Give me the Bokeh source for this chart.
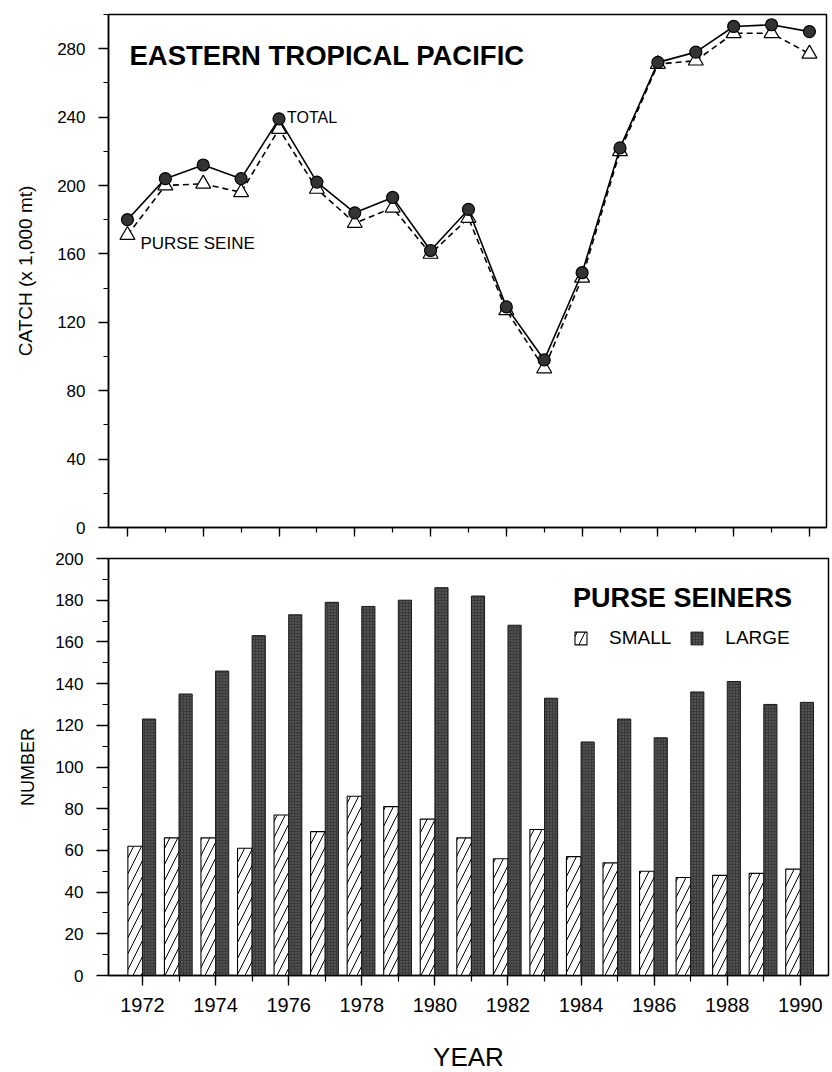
from bokeh.plotting import figure
from bokeh.models import (Range1d, SingleIntervalTicker, Label, Legend,
                          LegendItem, ColumnDataSource)
from bokeh.layouts import column
from bokeh.transform import dodge
from bokeh.embed import file_html
from bokeh.resources import INLINE

FONT = "Liberation Sans"

# Annual series, 1972-1990
years = list(range(1972, 1991))
total_catch = [180, 204, 212, 204, 239, 202, 184, 193, 162, 186,
               129, 98, 149, 222, 272, 278, 293, 294, 290]
purse_seine_catch = [171, 200, 201, 196, 233, 198, 178, 187, 160, 181,
                     127, 93, 146, 220, 271, 273, 289, 289, 277]
small_seiners = [62, 66, 66, 61, 77, 69, 86, 81, 75, 66,
                 56, 70, 57, 54, 50, 47, 48, 49, 51]
large_seiners = [123, 135, 146, 163, 173, 179, 177, 180, 186, 182,
                 168, 133, 112, 123, 114, 136, 141, 130, 131]

catch_src = ColumnDataSource(dict(year=years, total=total_catch,
                                  purse=purse_seine_catch))
fleet_src = ColumnDataSource(dict(year=years, small=small_seiners,
                                  large=large_seiners))


def style_frame(p):
    p.outline_line_color = "black"
    p.outline_line_width = 1.5
    p.xgrid.grid_line_color = None
    p.ygrid.grid_line_color = None
    p.background_fill_color = "white"
    p.border_fill_color = "white"
    for ax in (p.xaxis[0], p.yaxis[0]):
        ax.axis_line_width = 1.5
        ax.major_tick_in = 0
        ax.minor_tick_in = 0
        ax.major_tick_line_width = 1.3
        ax.minor_tick_line_width = 1.2
        ax.major_label_text_font = FONT
        ax.axis_label_text_font = FONT
        ax.axis_label_text_font_style = "normal"
        ax.major_label_text_color = "black"
        ax.axis_label_text_color = "black"


# ---- Upper panel: catch in thousands of metric tons ----
p1 = figure(frame_width=718, frame_height=513,
            x_range=Range1d(1971.5, 1990.45), y_range=Range1d(0, 300),
            min_border_left=106, min_border_right=8,
            min_border_top=14, min_border_bottom=16,
            output_backend="svg", toolbar_location=None)
style_frame(p1)

p1.xaxis.ticker = SingleIntervalTicker(interval=2, num_minor_ticks=2)
p1.xaxis.major_label_overrides = {y: "" for y in range(1970, 1993, 2)}
p1.xaxis.major_tick_out = 9
p1.xaxis.minor_tick_out = 5
p1.xaxis.major_label_standoff = 0

p1.yaxis.ticker = SingleIntervalTicker(interval=40, num_minor_ticks=2)
p1.yaxis.major_tick_out = 10
p1.yaxis.minor_tick_out = 5
p1.yaxis.major_label_standoff = 13
p1.yaxis.major_label_text_font_size = "17px"
p1.yaxis.axis_label = "CATCH (x 1,000 mt)"
p1.yaxis.axis_label_text_font_size = "19px"
p1.yaxis.axis_label_standoff = 18

p1.line("year", "purse", source=catch_src, line_color="black",
        line_width=1.6, line_dash="6 4")
p1.scatter("year", "purse", source=catch_src, marker="triangle", size=15,
           fill_color="white", line_color="black", line_width=1.2)
p1.line("year", "total", source=catch_src, line_color="black", line_width=1.6)
p1.scatter("year", "total", source=catch_src, marker="circle", size=12,
           fill_color="#333333", line_color="black", line_width=1.2)

p1.add_layout(Label(x=1972, y=276, x_offset=2, text="EASTERN TROPICAL PACIFIC",
                    text_font=FONT, text_font_size="27.5px",
                    text_font_style="bold", text_color="black",
                    text_baseline="alphabetic"))
p1.add_layout(Label(x=1976, y=240, x_offset=8, text="TOTAL",
                    text_font=FONT, text_font_size="16px", text_color="black",
                    text_baseline="alphabetic"))
p1.add_layout(Label(x=1972, y=166, x_offset=13, text="PURSE SEINE",
                    text_font=FONT, text_font_size="17px", text_color="black",
                    text_baseline="alphabetic"))

# ---- Lower panel: number of purse seiners by size class ----
p2 = figure(frame_width=720, frame_height=417,
            x_range=Range1d(1971.07, 1990.77), y_range=Range1d(0, 200),
            min_border_left=108, min_border_right=4,
            min_border_top=15, min_border_bottom=92,
            output_backend="svg", toolbar_location=None)
style_frame(p2)

p2.xaxis.ticker = SingleIntervalTicker(interval=2, num_minor_ticks=2)
p2.xaxis.major_tick_out = 10
p2.xaxis.minor_tick_out = 6
p2.xaxis.major_label_standoff = 12
p2.xaxis.major_label_text_font_size = "20px"
p2.xaxis.axis_label = "YEAR"
p2.xaxis.axis_label_text_font_size = "26px"
p2.xaxis.axis_label_standoff = 27

p2.yaxis.ticker = SingleIntervalTicker(interval=20, num_minor_ticks=2)
p2.yaxis.major_tick_out = 12
p2.yaxis.minor_tick_out = 6
p2.yaxis.major_label_standoff = 13
p2.yaxis.major_label_text_font_size = "17px"
p2.yaxis.axis_label = "NUMBER"
p2.yaxis.axis_label_text_font_size = "18px"
p2.yaxis.axis_label_standoff = 14

r_small = p2.vbar(x=dodge("year", -0.2, range=p2.x_range), top="small",
                  width=0.4, source=fleet_src,
                  fill_color="white", line_color="black", line_width=1.1,
                  hatch_pattern="/", hatch_color="black", hatch_scale=16,
                  hatch_weight=1.0)
r_large = p2.vbar(x=dodge("year", 0.18, range=p2.x_range), top="large",
                  width=0.36, source=fleet_src,
                  fill_color="#3a3a3a", line_color="#1a1a1a", line_width=1.0,
                  hatch_pattern=".", hatch_color="white", hatch_alpha=0.3,
                  hatch_scale=3)

legend = Legend(items=[LegendItem(label="SMALL", renderers=[r_small]),
                       LegendItem(label="LARGE", renderers=[r_large])],
                orientation="horizontal", location=(465, 326),
                title="PURSE SEINERS", title_text_font=FONT,
                title_text_font_size="27px", title_text_font_style="bold",
                title_text_color="black", title_standoff=13,
                label_text_font=FONT, label_text_font_size="19px",
                label_text_color="black",
                glyph_width=15, glyph_height=16, label_standoff=21,
                spacing=18, padding=0, margin=0,
                border_line_color=None, background_fill_alpha=0)
p2.add_layout(legend)

layout = column(p1, p2, spacing=0)
open("out.html", "w").write(file_html(layout, INLINE))
